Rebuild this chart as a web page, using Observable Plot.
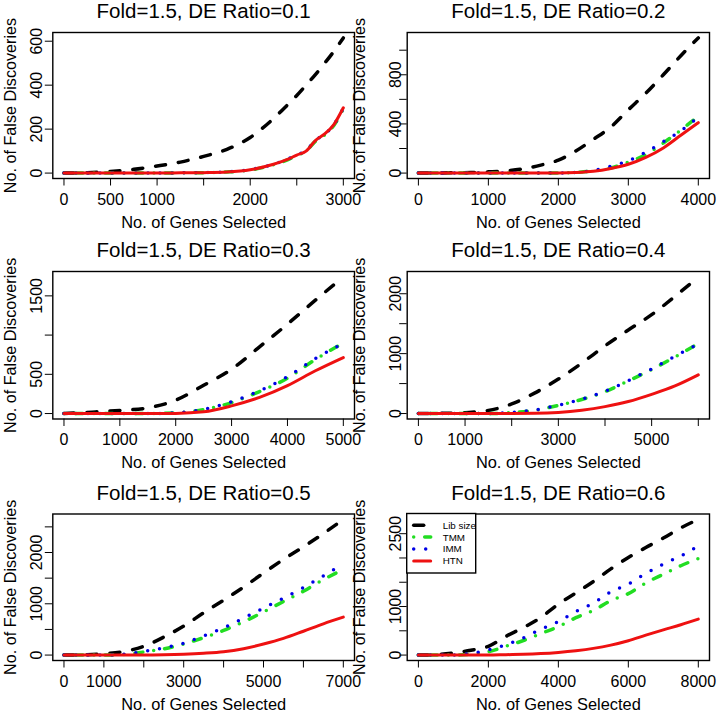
<!DOCTYPE html>
<html><head><meta charset="utf-8">
<script src="https://cdn.jsdelivr.net/npm/d3@7"></script>
<script src="https://cdn.jsdelivr.net/npm/@observablehq/plot@0.6"></script>
<style>
html,body{margin:0;padding:0;background:#fff;}
#wrap{position:relative;width:718px;height:712px;overflow:hidden;background:#fff;font-family:"Liberation Sans",Arial,Helvetica,sans-serif;}
.panel{position:absolute;}
</style></head><body><div id="wrap"></div>
<script>
// ---------- data ----------
const seriesNames = ["Lib size", "TMM", "IMM", "HTN"];
const titles = ["Fold=1.5, DE Ratio=0.1","Fold=1.5, DE Ratio=0.2","Fold=1.5, DE Ratio=0.3","Fold=1.5, DE Ratio=0.4","Fold=1.5, DE Ratio=0.5","Fold=1.5, DE Ratio=0.6"];
const xTitle = "No. of Genes Selected";
const yTitle = "No. of False Discoveries";

const p1Genes = [0,250,500,750,1000,1250,1500,1750,2000,2250,2400,2500,2600,2700,2800,2900,3000];
const p1Lib = [0,2,7,17,32,50,76,108,162,248,310,353,400,448,500,555,615];
const p1TMM = [0,0,0,0,0,1,2,5,14,38,60,80,100,145,174,218,292];
const p1IMM = [0,0,0,0,0,1,2,6,16,40,63,84,102,149,176,222,295];
const p1HTN = [0,0,0,0,0,1,2,5,15,40,62,82,100,148,178,222,297];
const p1XTicks = [0,500,1000,1500,2000,2500,3000];
const p1XLabels = [0,500,1000,2000,3000];
const p1YTicks = [0,200,400,600];
const p1YLabels = [0,200,400,600];

const p2Genes = [0,250,500,750,1000,1250,1500,1750,2000,2250,2500,2750,3000,3250,3500,3750,4000];
const p2Lib = [0,1,2,5,10,18,35,65,105,180,275,375,515,650,800,955,1100];
const p2TMM = [0,0,0,0,0,0,0,0,1,6,18,42,90,150,245,350,462];
const p2IMM = [0,0,0,0,0,0,0,0,1,6,22,55,100,170,255,345,455];
const p2HTN = [0,0,0,0,0,0,0,0,1,5,15,38,72,128,205,308,410];
const p2XTicks = [0,1000,2000,3000,4000];
const p2XLabels = [0,1000,2000,3000,4000];
const p2YTicks = [0,200,400,600,800,1000];
const p2YLabels = [0,400,800];

const p3Genes = [0,500,1000,1500,2000,2500,3000,3500,4000,4500,5000];
const p3Lib = [0,18,40,72,170,360,565,850,1140,1445,1741];
const p3TMM = [0,0,0,0,10,50,140,280,450,690,900];
const p3IMM = [0,0,0,0,10,52,150,290,470,700,895];
const p3HTN = [0,0,0,0,2,22,98,205,355,545,714];
const p3XTicks = [0,1000,2000,3000,4000,5000];
const p3XLabels = [0,1000,2000,3000,4000,5000];
const p3YTicks = [0,500,1000,1500];
const p3YLabels = [0,500,1500];

const p4Genes = [0,500,1000,1500,2000,2500,3000,3500,4000,4500,5000,5500,6000];
const p4Lib = [0,3,15,50,160,345,575,840,1130,1395,1650,1955,2280];
const p4TMM = [0,0,0,0,15,55,135,235,365,545,735,945,1170];
const p4IMM = [0,0,0,0,20,60,140,240,370,550,745,955,1160];
const p4HTN = [0,0,0,0,0,3,18,55,115,200,320,460,645];
const p4XTicks = [0,1000,2000,3000,4000,5000,6000];
const p4XLabels = [0,1000,3000,5000];
const p4YTicks = [0,500,1000,1500,2000];
const p4YLabels = [0,1000,2000];

const p5Genes = [0,500,1000,1500,2000,2500,3000,3500,4000,4500,5000,5500,6000,6500,7000];
const p5Lib = [0,5,25,70,170,350,565,825,1070,1325,1600,1865,2110,2370,2645];
const p5TMM = [0,0,0,10,60,120,215,340,480,650,840,1045,1245,1470,1670];
const p5IMM = [0,0,0,15,70,140,230,375,530,720,915,1110,1315,1545,1780];
const p5HTN = [0,0,0,0,0,5,16,35,65,125,215,325,465,610,740];
const p5XTicks = [0,1000,2000,3000,4000,5000,6000,7000];
const p5XLabels = [0,1000,3000,5000,7000];
const p5YTicks = [0,500,1000,1500,2000,2500];
const p5YLabels = [0,1000,2000];

const p6Genes = [0,500,1000,1500,2000,2500,3000,3500,4000,4500,5000,5500,6000,6500,7000,7500,8000];
const p6Lib = [0,10,45,100,180,385,565,775,1050,1280,1515,1775,2010,2215,2410,2620,2794];
const p6TMM = [0,0,0,20,70,180,300,445,585,770,920,1120,1265,1485,1665,1840,1990];
const p6IMM = [0,0,0,35,105,210,355,530,690,898,1072,1300,1464,1680,1875,2041,2250];
const p6HTN = [0,0,0,0,0,8,15,30,55,90,138,205,295,410,520,625,740];
const p6XTicks = [0,2000,4000,6000,8000];
const p6XLabels = [0,2000,4000,6000,8000];
const p6YTicks = [0,500,1000,1500,2000,2500];
const p6YLabels = [0,1000,2500];

// ---------- styles / layout ----------
const seriesColors = ["#000000", "#22dd22", "#0000e6", "#ee1111"];
const seriesDash = ["10,13", "0,11,8,11", "0,12", null];
const seriesWidth = [3.5, 3.5, 3.5, 3];

const panels = [
  {genes:p1Genes, series:[p1Lib,p1TMM,p1IMM,p1HTN], xT:p1XTicks, xL:p1XLabels, yT:p1YTicks, yL:p1YLabels},
  {genes:p2Genes, series:[p2Lib,p2TMM,p2IMM,p2HTN], xT:p2XTicks, xL:p2XLabels, yT:p2YTicks, yL:p2YLabels},
  {genes:p3Genes, series:[p3Lib,p3TMM,p3IMM,p3HTN], xT:p3XTicks, xL:p3XLabels, yT:p3YTicks, yL:p3YLabels},
  {genes:p4Genes, series:[p4Lib,p4TMM,p4IMM,p4HTN], xT:p4XTicks, xL:p4XLabels, yT:p4YTicks, yL:p4YLabels},
  {genes:p5Genes, series:[p5Lib,p5TMM,p5IMM,p5HTN], xT:p5XTicks, xL:p5XLabels, yT:p5YTicks, yL:p5YLabels},
  {genes:p6Genes, series:[p6Lib,p6TMM,p6IMM,p6HTN], xT:p6XTicks, xL:p6XLabels, yT:p6YTicks, yL:p6YLabels}
];
const rows = [{top:0,h:237,mt:32,mb:59},{top:237,h:237,mt:34,mb:55.5},{top:474,h:238,mt:39.5,mb:52}];
const cols = [{left:0,w:359,ml:52.3,mr:5,ytDx:-10.6,yTitleDx:-37.3},{left:354,w:364,ml:52.7,mr:9,ytDx:-6,yTitleDx:-42.7}];

const wrap = document.getElementById("wrap");
const FONT = '"Liberation Sans", Arial, Helvetica, sans-serif';

panels.forEach((p, k) => {
  const R = rows[Math.floor(k / 2)], C = cols[k % 2];
  const xmax = d3.max(p.genes);
  const ymax = d3.max(p.series.flat());
  const marks = p.series.map((vals, i) => Plot.line(vals, {
    x: p.genes, y: vals, stroke: seriesColors[i], strokeWidth: seriesWidth[i],
    strokeDasharray: seriesDash[i] || undefined, strokeLinecap: "round", strokeLinejoin: "round",
    curve: "monotone-x"
  }));
  marks.push(
    Plot.frame({stroke: "black", strokeWidth: 1.4}),
    Plot.axisX({ticks: p.xT, tickSize: 7.5, tickPadding: 7.5, label: null, fontSize: 16,
      tickFormat: d => p.xL.includes(d) ? String(d) : ""}),
    Plot.axisY({ticks: p.yT, tickSize: 7.5, label: null, tickFormat: () => ""}),
    Plot.text(p.yL, {y: d => d, text: d => String(d), frameAnchor: "left", dx: C.ytDx,
      rotate: -90, textAnchor: "middle", lineAnchor: "bottom", fontSize: 16}),
    Plot.text([titles[k]], {text: d => d, frameAnchor: "top", dy: -14.3, lineAnchor: "bottom", fontSize: 20.5}),
    Plot.text([xTitle], {text: d => d, frameAnchor: "bottom", dy: 49, lineAnchor: "bottom", fontSize: 16.4}),
    Plot.text([yTitle], {text: d => d, frameAnchor: "left", dx: C.yTitleDx, rotate: -90,
      textAnchor: "middle", lineAnchor: "bottom", fontSize: 16.2})
  );
  const svg = Plot.plot({
    width: C.w, height: R.h,
    marginLeft: C.ml, marginRight: C.mr, marginTop: R.mt, marginBottom: R.mb,
    x: {domain: [-0.04 * xmax, 1.04 * xmax]},
    y: {domain: [-0.04 * ymax, 1.04 * ymax]},
    style: {background: "transparent", fontFamily: FONT, fontSize: "16px", color: "black", overflow: "visible"},
    marks
  });
  svg.classList.add("panel");
  svg.style.left = C.left + "px";
  svg.style.top = R.top + "px";
  svg.style.position = "absolute";
  svg.style.overflow = "visible";

  if (k === 5) {
    // legend at top-left of the plotting frame
    const g = d3.select(svg).append("g").attr("font-family", FONT).attr("text-anchor", "start");
    const bx = C.ml, by = R.mt, bw = 69, bh = 59.5;
    g.append("rect").attr("x", bx).attr("y", by).attr("width", bw).attr("height", bh)
      .attr("fill", "white").attr("stroke", "black").attr("stroke-width", 1.4);
    seriesNames.forEach((name, i) => {
      const yy = by + 11.7 + i * 11.9;
      g.append("line").attr("x1", bx + 7).attr("x2", bx + 24).attr("y1", yy).attr("y2", yy)
        .attr("stroke", seriesColors[i]).attr("stroke-width", seriesWidth[i])
        .attr("stroke-linecap", "round")
        .attr("stroke-dasharray", seriesDash[i] || null);
      g.append("text").attr("x", bx + 36).attr("y", yy).attr("dy", "0.35em")
        .attr("text-anchor", "start")
        .style("font-size", "9.8px").attr("fill", "black").text(name);
    });
  }
  wrap.appendChild(svg);
});
</script></body></html>
